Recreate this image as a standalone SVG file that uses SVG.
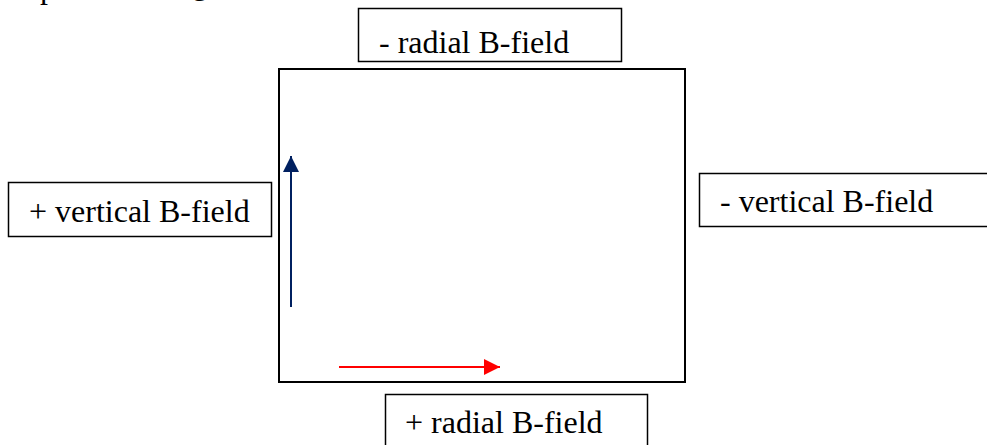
<svg xmlns="http://www.w3.org/2000/svg" width="987" height="445" viewBox="0 0 987 445">
<defs>
<style>
.box{fill:#fff;stroke:#000;stroke-width:1.5}
.lbl{font-family:"Liberation Serif","Times New Roman",serif;font-size:32px;fill:#000}
</style>
<marker id="ahRed" markerWidth="8" markerHeight="8" refX="8" refY="4" orient="auto" markerUnits="strokeWidth">
<path d="M0,0 L8,4 L0,8 z" fill="#ff0000"/>
</marker>
<marker id="ahBlue" markerWidth="8" markerHeight="8" refX="8" refY="4" orient="auto" markerUnits="strokeWidth">
<path d="M0,0 L8,4 L0,8 z" fill="#002060"/>
</marker>
</defs>
<rect width="987" height="445" fill="#fff"/>
<text class="lbl" x="40" y="-2">p</text>
<text class="lbl" x="192" y="-6">g</text>
<g id="region">
<rect x="279" y="69" width="406" height="313" fill="none" stroke="#000" stroke-width="2"/>
</g>
<g id="neg-radial">
<rect class="box" x="358.5" y="8.5" width="263" height="53"/>
<text class="lbl" x="379" y="53">- radial B-field</text>
</g>
<g id="pos-vertical">
<rect class="box" x="8.5" y="182.5" width="263" height="54"/>
<text class="lbl" x="29" y="222">+ vertical B-field</text>
</g>
<g id="neg-vertical">
<rect class="box" x="699.5" y="173.5" width="300" height="53"/>
<text class="lbl" x="720" y="212">- vertical B-field</text>
</g>
<g id="pos-radial">
<rect class="box" x="385.5" y="394.5" width="262" height="60"/>
<text class="lbl" x="405" y="433">+ radial B-field</text>
</g>
<g id="connectors">
<line x1="291" y1="307" x2="291" y2="156" stroke="#002060" stroke-width="2" marker-end="url(#ahBlue)"/>
<line x1="339" y1="367" x2="500" y2="367" stroke="#ff0000" stroke-width="2" marker-end="url(#ahRed)"/>
</g>
</svg>
